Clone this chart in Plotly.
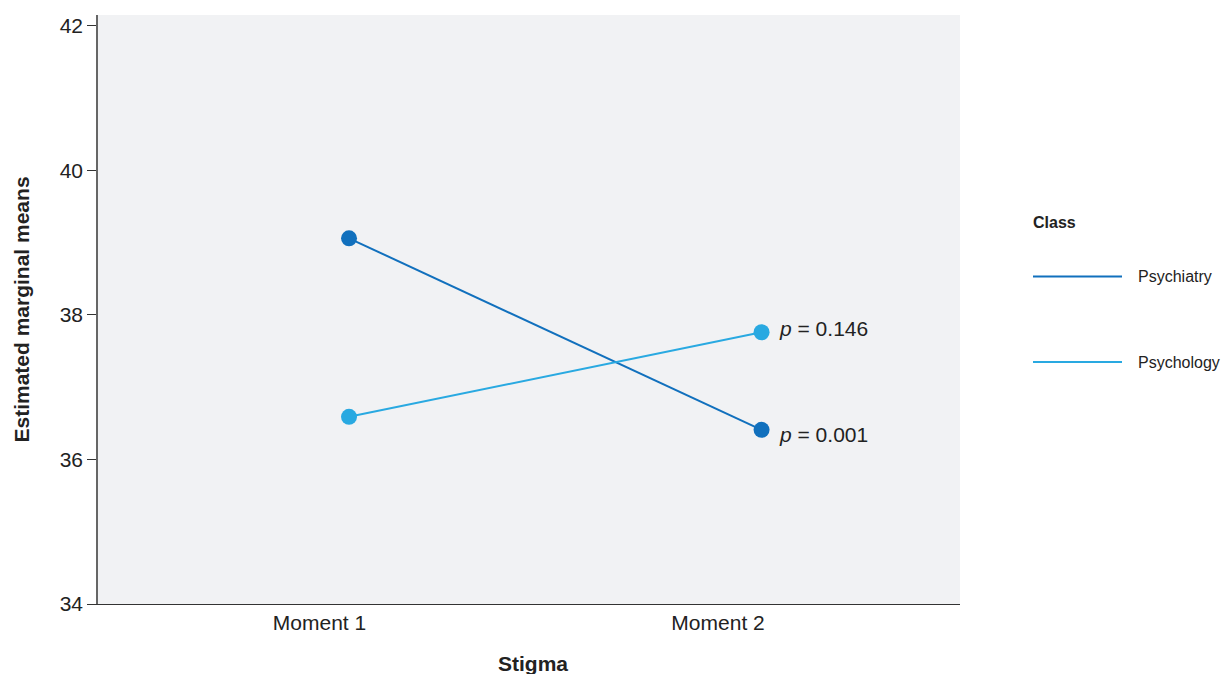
import plotly.graph_objects as go

moments = ["Moment 1", "Moment 2"]
classes = ["Psychiatry", "Psychology"]
psychiatry = [39.06, 36.41]
psychology = [36.59, 37.76]
p_labels = ["p = 0.001", "p = 0.146"]
colors = ["#1170bd", "#29a9e1"]
y_ticks = [34, 36, 38, 40, 42]

FONT = "Liberation Sans, Arial, sans-serif"
xpos = list(range(len(moments)))
# tick labels sit slightly left of the plotted points in the reference
label_pos = [-0.0715, 0.8945]

W, H = 1221, 674
PX0, PX1, PY0, PY1 = 98, 960, 15, 604  # plot area in window pixels
L, T = PX0, PY0
R, B = W - PX1, H - PY1
pw, ph = PX1 - PX0, PY1 - PY0


def px(x):
    return (x - PX0) / pw


def py(y):
    return 1 - (y - PY0) / ph


fig = go.Figure()
for name, vals, col in zip(classes, [psychiatry, psychology], colors):
    fig.add_trace(go.Scatter(
        x=xpos, y=vals, mode="lines+markers", name=name,
        line=dict(color=col, width=2),
        marker=dict(color=col, size=16),
        showlegend=False,
    ))

# p-value annotations at Moment 2 points
for vals, lab, ys in zip([psychiatry, psychology], p_labels, [-5, 4]):
    fig.add_annotation(
        x=xpos[-1], y=vals[-1], xref="x", yref="y",
        text="<i>p</i>" + lab[1:], showarrow=False,
        xanchor="left", xshift=15, yshift=ys,
        font=dict(family=FONT, size=21, color="#222222"),
    )

# manual legend
fig.add_annotation(x=px(1031), y=py(222), xref="paper", yref="paper", text="<b>Class</b>",
                   showarrow=False, xanchor="left", yanchor="middle",
                   font=dict(family=FONT, size=16, color="#222222"))
legend_y = [276.5, 362]
for name, col, ly in zip(classes, colors, legend_y):
    fig.add_shape(type="line", xref="paper", yref="paper",
                  x0=px(1033), x1=px(1122), y0=py(ly), y1=py(ly),
                  line=dict(color=col, width=2))
    fig.add_annotation(x=px(1136), y=py(ly), xref="paper", yref="paper", text=name,
                       showarrow=False, xanchor="left", yanchor="middle",
                       font=dict(family=FONT, size=16, color="#222222"))

# x-axis title (slightly right of plot centre, as in reference)
fig.add_annotation(x=px(533), y=py(663), xref="paper", yref="paper", text="<b>Stigma</b>",
                   showarrow=False, xanchor="center", yanchor="middle",
                   font=dict(family=FONT, size=21, color="#222222"))

fig.update_layout(
    width=W, height=H,
    margin=dict(l=L, r=R, t=T, b=B, autoexpand=False),
    paper_bgcolor="white", plot_bgcolor="#f1f2f4",
    font=dict(family=FONT, size=21, color="#222222"),
    showlegend=False,
)
fig.update_xaxes(
    tickvals=label_pos, ticktext=moments, range=[-0.6085, 1.481],
    showgrid=False, zeroline=False, showline=True, linecolor="#333333", linewidth=1,
    ticks="", tickfont=dict(size=21),
)
fig.update_yaxes(
    tickvals=y_ticks, range=[34, 42.15],
    showgrid=False, zeroline=False, showline=True, linecolor="#666666", linewidth=1.5,
    ticks="outside", ticklen=9, tickcolor="#333333", tickfont=dict(size=21),
    title=dict(text="<b>Estimated marginal means</b>", font=dict(size=21), standoff=24),
)

fig.write_html(
    "out.html",
    config={"displayModeBar": False},
    post_script="document.body.style.margin='0';document.body.style.overflow='hidden';",
)
